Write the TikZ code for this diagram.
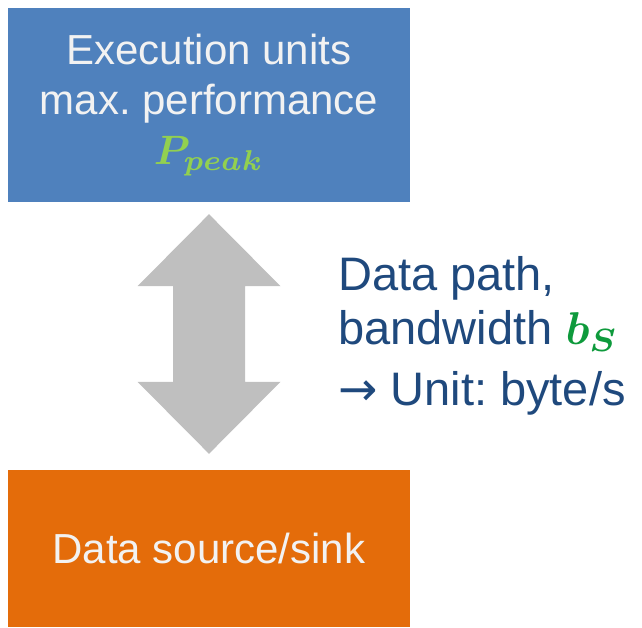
\documentclass[tikz,border=0pt]{standalone}
\usepackage{amsmath}
\usepackage{bm}
\usepackage{graphicx}
\usepackage{fontspec}
\setmainfont{Liberation Sans}
\newfontfamily\arrowfont{DejaVu Sans}
\usepackage{tikz}
\usetikzlibrary{calc,positioning}

\definecolor{execblue}{HTML}{4F81BD}
\definecolor{sinkorange}{HTML}{E46C0A}
\definecolor{pathgray}{HTML}{BFBFBF}
\definecolor{pathblue}{HTML}{1F497D}
\definecolor{peakgreen}{HTML}{92D050}
\definecolor{bwgreen}{HTML}{0E9A3C}
\definecolor{boxtext}{HTML}{F2F2F2}

\newcommand{\bigmath}[2]{{\fontsize{10}{12}\selectfont\scalebox{#1}{$\bm{#2}$}}}

\begin{document}
\begin{tikzpicture}[x=1pt, y=1pt,
    unit/.style={rectangle, minimum width=402pt, inner sep=0pt, text=boxtext, align=center, font=\fontsize{42}{50}\selectfont\frenchspacing}]
    \useasboundingbox (0,0) rectangle (642,627);

    \node[unit, fill=execblue, minimum height=194pt] (exec) at (209,522) {Execution units\\max. performance\\\textcolor{peakgreen}{\bigmath{4.1}{P_{peak}}}};
    \node[unit, fill=sinkorange, minimum height=157pt, node distance=443.5pt, below of=exec] (sink) {Data source/sink};

    % double arrow between the two units
    \coordinate (uptip) at ($(exec.south)+(0,-12)$);
    \coordinate (downtip) at ($(sink.north)+(0,16)$);
    \fill[pathgray] (uptip) -- ++(71.5,-72) -- ++(-35.5,0) -- ($(downtip)+(36,72)$) -- ++(35.5,0) -- (downtip)
        -- ++(-71.5,72) -- ++(35.5,0) -- ($(uptip)+(-36,-72)$) -- ++(-35.5,0) -- cycle;

    \node[anchor=north west, inner sep=0pt, align=left, text=pathblue, font=\fontsize{47}{54}\selectfont\frenchspacing] (datapath) at (338,371) {Data path,\\bandwidth \textcolor{bwgreen}{\bigmath{4.6}{b_S}}\\[7pt]{\arrowfont →} Unit: byte/s};
  \end{tikzpicture}
\end{document}
